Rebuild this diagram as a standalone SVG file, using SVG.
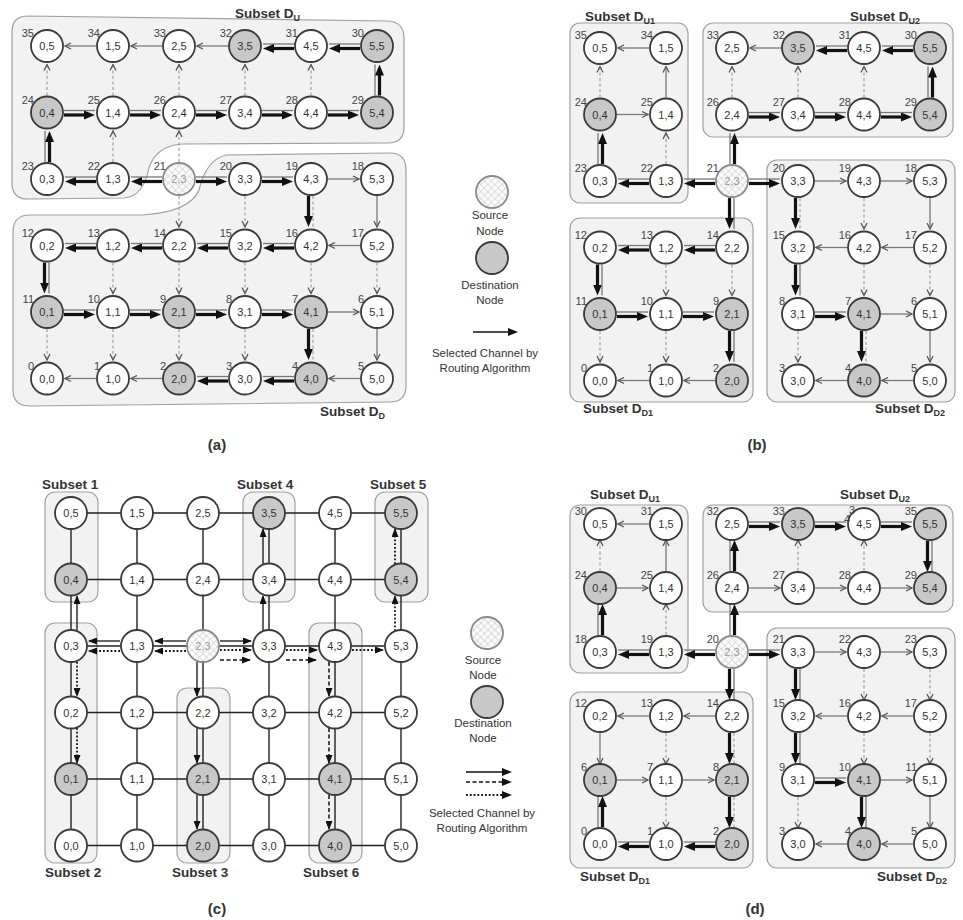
<svg xmlns="http://www.w3.org/2000/svg" xmlns:xlink="http://www.w3.org/1999/xlink" width="963" height="920" viewBox="0 0 963 920">
<style>
.n{fill:#fff;stroke:#3a3a3a;stroke-width:1.8}
.g{fill:#c8c8c8}
.s{fill:url(#hatch);stroke:#8a8a8a}
.t{font-family:"Liberation Sans",Arial,sans-serif;font-size:11px;fill:#333;text-anchor:middle}
.ts{fill:#999}
.k{font-family:"Liberation Sans",Arial,sans-serif;font-size:11px;fill:#444;text-anchor:end}
.c{stroke:#777;stroke-width:1.3;fill:none}
.cd{stroke:#9a9a9a;stroke-width:1.1;stroke-dasharray:3 2.5;fill:none}
.tk{stroke:#111;stroke-width:3.2;fill:none}
.box{fill:#f2f2f2;stroke:#a0a0a0;stroke-width:1.2}
.lab{font-family:"Liberation Sans",Arial,sans-serif;font-size:13.5px;font-weight:bold;fill:#333}
.sub{font-size:9px}
.leg{font-family:"Liberation Sans",Arial,sans-serif;font-size:11.5px;fill:#333;text-anchor:middle}
.cap{font-family:"Liberation Sans",Arial,sans-serif;font-size:15px;font-weight:bold;fill:#333;text-anchor:middle}
.m{stroke:#222;stroke-width:1.4;fill:none}
.p1{stroke:#111;stroke-width:1.3;fill:none}
.p2{stroke:#111;stroke-width:1.5;stroke-dasharray:4 2.5;fill:none}
.p3{stroke:#111;stroke-width:1.8;stroke-dasharray:1.8 2;fill:none}
</style>
<defs>
<pattern id="hatch" patternUnits="userSpaceOnUse" width="5" height="5" patternTransform="rotate(45)"><rect width="5" height="5" fill="#fbfbfb"/><path d="M0,0H5M0,0V5" stroke="#c4c4c4" stroke-width="1"/></pattern>
<marker id="ah" viewBox="0 0 8 8" refX="7" refY="4" markerWidth="8" markerHeight="8" orient="auto" markerUnits="userSpaceOnUse"><path d="M1,1 L7,4 L1,7" fill="none" stroke="#555" stroke-width="1.3"/></marker>
<marker id="th" viewBox="0 0 11 9" refX="2" refY="4.5" markerWidth="11" markerHeight="9" orient="auto" markerUnits="userSpaceOnUse"><path d="M0,0 L11,4.5 L0,9 z" fill="#111"/></marker>
<marker id="sa" viewBox="0 0 9 7" refX="8" refY="3.5" markerWidth="9" markerHeight="7" orient="auto" markerUnits="userSpaceOnUse"><path d="M0,0 L9,3.5 L0,7 z" fill="#111"/></marker>
<marker id="la" viewBox="0 0 10 8" refX="1" refY="4" markerWidth="10" markerHeight="8" orient="auto" markerUnits="userSpaceOnUse"><path d="M0,0 L10,4 L0,8 z" fill="#111"/></marker>
<g id="s"><line x1="17" y1="0" x2="48" y2="0" class="c" marker-end="url(#ah)"/></g>
<g id="d"><line x1="17" y1="0" x2="48" y2="0" class="cd" marker-end="url(#ah)"/></g>
<g id="S"><line x1="17" y1="-2" x2="48" y2="-2" class="c"/><line x1="17" y1="2.5" x2="39" y2="2.5" class="tk" marker-end="url(#th)"/></g>
<g id="D"><line x1="17" y1="-2" x2="48" y2="-2" class="cd"/><line x1="17" y1="2.5" x2="39" y2="2.5" class="tk" marker-end="url(#th)"/></g>
</defs>
<rect width="963" height="920" fill="#fff"/>

<g id="subsets">
<path id="a-DU" class="box" d="M28,16 L386,21 Q404,21 404,38 V127 Q404,143 388,143 L182,144 Q156,146 149,168 Q143,197 124,198 L28,199 Q12,199 12,183 V32 Q12,16 28,16 Z"/>
<path id="a-DD" class="box" d="M30,215 L142,215 Q190,212 199,190 Q206,160 226,155 L390,153 Q406,153 406,170 V386 Q406,402 390,402 L30,406 Q13,406 13,390 V232 Q13,215 30,215 Z"/>
<text class="lab" x="235" y="18">Subset D<tspan class="sub" dy="3">U</tspan></text>
<text class="lab" x="320" y="416">Subset D<tspan class="sub" dy="3">D</tspan></text>

<rect class="box" x="570" y="23" width="118" height="180" rx="10"/>
<rect class="box" x="703" y="23" width="250" height="114" rx="10"/>
<rect class="box" x="570" y="218" width="183" height="184" rx="10"/>
<rect class="box" x="767" y="160" width="188" height="242" rx="10"/>
<text class="lab" x="585" y="21">Subset D<tspan class="sub" dy="3">U1</tspan></text>
<text class="lab" x="850" y="21">Subset D<tspan class="sub" dy="3">U2</tspan></text>
<text class="lab" x="583" y="413">Subset D<tspan class="sub" dy="3">D1</tspan></text>
<text class="lab" x="875" y="413">Subset D<tspan class="sub" dy="3">D2</tspan></text>

<rect class="box" x="45" y="492" width="53" height="110" rx="10"/>
<rect class="box" x="243" y="492" width="52" height="110" rx="10"/>
<rect class="box" x="375" y="492" width="53" height="110" rx="10"/>
<rect class="box" x="45" y="623" width="52" height="240" rx="10"/>
<rect class="box" x="177" y="688" width="53" height="175" rx="10"/>
<rect class="box" x="309" y="623" width="53" height="240" rx="10"/>
<text class="lab" x="42" y="489">Subset 1</text>
<text class="lab" x="237" y="489">Subset 4</text>
<text class="lab" x="370" y="489">Subset 5</text>
<text class="lab" x="45" y="877">Subset 2</text>
<text class="lab" x="172" y="877">Subset 3</text>
<text class="lab" x="303" y="877">Subset 6</text>

<rect class="box" x="570" y="505" width="118" height="168" rx="10"/>
<rect class="box" x="703" y="505" width="250" height="107" rx="10"/>
<rect class="box" x="570" y="692" width="183" height="176" rx="10"/>
<rect class="box" x="767" y="628" width="188" height="240" rx="10"/>
<text class="lab" x="590" y="499">Subset D<tspan class="sub" dy="3">U1</tspan></text>
<text class="lab" x="840" y="499">Subset D<tspan class="sub" dy="3">U2</tspan></text>
<text class="lab" x="580" y="881">Subset D<tspan class="sub" dy="3">D1</tspan></text>
<text class="lab" x="877" y="881">Subset D<tspan class="sub" dy="3">D2</tspan></text>
</g>

<g id="connectors">
<g id="conn-a" transform="translate(47,46)">
<use href="#S" transform="translate(330,0) scale(-1,1)"/>
<use href="#S" transform="translate(264,0) scale(-1,1)"/>
<use href="#s" transform="translate(198,0) scale(-1,1)"/>
<use href="#s" transform="translate(132,0) scale(-1,1)"/>
<use href="#s" transform="translate(66,0) scale(-1,1)"/>
<use href="#d" transform="translate(0,66.5) rotate(-90)"/>
<use href="#d" transform="translate(66,66.5) rotate(-90)"/>
<use href="#d" transform="translate(132,66.5) rotate(-90)"/>
<use href="#d" transform="translate(198,66.5) rotate(-90)"/>
<use href="#d" transform="translate(264,66.5) rotate(-90)"/>
<use href="#S" transform="translate(330,66.5) rotate(-90)"/>
<use href="#S" transform="translate(0,66.5)"/>
<use href="#S" transform="translate(66,66.5)"/>
<use href="#S" transform="translate(132,66.5)"/>
<use href="#S" transform="translate(198,66.5)"/>
<use href="#S" transform="translate(264,66.5)"/>
<use href="#S" transform="translate(0,133) rotate(-90)"/>
<use href="#d" transform="translate(66,133) rotate(-90)"/>
<use href="#d" transform="translate(132,133) rotate(-90)"/>
<use href="#S" transform="translate(132,133) scale(-1,1)"/>
<use href="#S" transform="translate(66,133) scale(-1,1)"/>
<use href="#S" transform="translate(132,133)"/>
<use href="#S" transform="translate(198,133)"/>
<use href="#s" transform="translate(264,133)"/>
<use href="#d" transform="translate(132,133) rotate(90)"/>
<use href="#d" transform="translate(198,133) rotate(90)"/>
<use href="#D" transform="translate(264,133) rotate(90)"/>
<use href="#s" transform="translate(330,133) rotate(90)"/>
<use href="#s" transform="translate(330,199.5) scale(-1,1)"/>
<use href="#S" transform="translate(264,199.5) scale(-1,1)"/>
<use href="#S" transform="translate(198,199.5) scale(-1,1)"/>
<use href="#S" transform="translate(132,199.5) scale(-1,1)"/>
<use href="#S" transform="translate(66,199.5) scale(-1,1)"/>
<use href="#S" transform="translate(0,199.5) rotate(90)"/>
<use href="#d" transform="translate(66,199.5) rotate(90)"/>
<use href="#d" transform="translate(132,199.5) rotate(90)"/>
<use href="#d" transform="translate(198,199.5) rotate(90)"/>
<use href="#d" transform="translate(264,199.5) rotate(90)"/>
<use href="#d" transform="translate(330,199.5) rotate(90)"/>
<use href="#S" transform="translate(0,266)"/>
<use href="#S" transform="translate(66,266)"/>
<use href="#S" transform="translate(132,266)"/>
<use href="#S" transform="translate(198,266)"/>
<use href="#s" transform="translate(264,266)"/>
<use href="#d" transform="translate(0,266) rotate(90)"/>
<use href="#d" transform="translate(66,266) rotate(90)"/>
<use href="#d" transform="translate(132,266) rotate(90)"/>
<use href="#d" transform="translate(198,266) rotate(90)"/>
<use href="#D" transform="translate(264,266) rotate(90)"/>
<use href="#s" transform="translate(330,266) rotate(90)"/>
<use href="#s" transform="translate(330,332.5) scale(-1,1)"/>
<use href="#S" transform="translate(264,332.5) scale(-1,1)"/>
<use href="#S" transform="translate(198,332.5) scale(-1,1)"/>
<use href="#s" transform="translate(132,332.5) scale(-1,1)"/>
<use href="#s" transform="translate(66,332.5) scale(-1,1)"/>
</g>
<g id="conn-b" transform="translate(600,48)">
<use href="#S" transform="translate(132,133) scale(-1,1)"/>
<use href="#S" transform="translate(66,133) scale(-1,1)"/>
<use href="#S" transform="translate(0,133) rotate(-90)"/>
<use href="#s" transform="translate(0,66.5)"/>
<use href="#d" transform="translate(66,133) rotate(-90)"/>
<use href="#d" transform="translate(0,66.5) rotate(-90)"/>
<use href="#s" transform="translate(66,66.5) rotate(-90)"/>
<use href="#s" transform="translate(66,0) scale(-1,1)"/>
<use href="#S" transform="translate(132,133) rotate(-90)"/>
<use href="#S" transform="translate(132,66.5)"/>
<use href="#S" transform="translate(198,66.5)"/>
<use href="#S" transform="translate(264,66.5)"/>
<use href="#S" transform="translate(330,66.5) rotate(-90)"/>
<use href="#S" transform="translate(330,0) scale(-1,1)"/>
<use href="#S" transform="translate(264,0) scale(-1,1)"/>
<use href="#s" transform="translate(198,0) scale(-1,1)"/>
<use href="#d" transform="translate(132,66.5) rotate(-90)"/>
<use href="#d" transform="translate(198,66.5) rotate(-90)"/>
<use href="#d" transform="translate(264,66.5) rotate(-90)"/>
<use href="#S" transform="translate(132,133) rotate(90)"/>
<use href="#S" transform="translate(132,199.5) scale(-1,1)"/>
<use href="#S" transform="translate(66,199.5) scale(-1,1)"/>
<use href="#S" transform="translate(0,199.5) rotate(90)"/>
<use href="#S" transform="translate(0,266)"/>
<use href="#S" transform="translate(66,266)"/>
<use href="#S" transform="translate(132,266) rotate(90)"/>
<use href="#s" transform="translate(132,332.5) scale(-1,1)"/>
<use href="#s" transform="translate(66,332.5) scale(-1,1)"/>
<use href="#d" transform="translate(66,199.5) rotate(90)"/>
<use href="#d" transform="translate(132,199.5) rotate(90)"/>
<use href="#d" transform="translate(0,266) rotate(90)"/>
<use href="#d" transform="translate(66,266) rotate(90)"/>
<use href="#S" transform="translate(132,133)"/>
<use href="#s" transform="translate(198,133)"/>
<use href="#s" transform="translate(264,133)"/>
<use href="#D" transform="translate(198,133) rotate(90)"/>
<use href="#d" transform="translate(264,133) rotate(90)"/>
<use href="#s" transform="translate(330,133) rotate(90)"/>
<use href="#s" transform="translate(330,199.5) scale(-1,1)"/>
<use href="#s" transform="translate(264,199.5) scale(-1,1)"/>
<use href="#S" transform="translate(198,199.5) rotate(90)"/>
<use href="#d" transform="translate(264,199.5) rotate(90)"/>
<use href="#d" transform="translate(330,199.5) rotate(90)"/>
<use href="#S" transform="translate(198,266)"/>
<use href="#s" transform="translate(264,266)"/>
<use href="#d" transform="translate(198,266) rotate(90)"/>
<use href="#D" transform="translate(264,266) rotate(90)"/>
<use href="#s" transform="translate(330,266) rotate(90)"/>
<use href="#s" transform="translate(330,332.5) scale(-1,1)"/>
<use href="#s" transform="translate(264,332.5) scale(-1,1)"/>
</g>
<g id="conn-c" transform="translate(71,513)">
<path class="m" d="M0,0H330M0,66.5H330M0,133H330M0,199.5H330M0,266H330M0,332.5H330M0,0V332.5M66,0V332.5M132,0V332.5M198,0V332.5M264,0V332.5M330,0V332.5"/>
<g marker-end="url(#sa)">
<line class="p1" x1="115" y1="128" x2="84" y2="128"/>
<line class="p1" x1="49" y1="128" x2="18" y2="128"/>
<line class="p1" x1="6" y1="118" x2="6" y2="83"/>
<line class="p1" x1="149" y1="128" x2="180" y2="128"/>
<line class="p1" x1="192" y1="118" x2="192" y2="83"/>
<line class="p1" x1="192" y1="51" x2="192" y2="16"/>
<line class="p1" x1="126" y1="149" x2="126" y2="183"/>
<line class="p1" x1="126" y1="215" x2="126" y2="250"/>
<line class="p1" x1="126" y1="282" x2="126" y2="316"/>
<line class="p3" x1="115" y1="138" x2="84" y2="138"/>
<line class="p3" x1="49" y1="138" x2="18" y2="138"/>
<line class="p3" x1="6" y1="149" x2="6" y2="183"/>
<line class="p3" x1="6" y1="215" x2="6" y2="250"/>
<line class="p3" x1="149" y1="137" x2="180" y2="137"/>
<line class="p3" x1="215" y1="137" x2="246" y2="137"/>
<line class="p3" x1="281" y1="137" x2="312" y2="137"/>
<line class="p3" x1="324" y1="118" x2="324" y2="83"/>
<line class="p3" x1="324" y1="51" x2="324" y2="16"/>
<line class="p2" x1="149" y1="147" x2="179" y2="147"/>
<line class="p2" x1="215" y1="147" x2="245" y2="147"/>
<line class="p2" x1="258" y1="149" x2="258" y2="183"/>
<line class="p2" x1="258" y1="215" x2="258" y2="250"/>
<line class="p2" x1="258" y1="282" x2="258" y2="316"/>
</g>
</g>
<g id="conn-d" transform="translate(600,524)">
<use href="#S" transform="translate(132,128) scale(-1,1)"/>
<use href="#S" transform="translate(66,128) scale(-1,1)"/>
<use href="#S" transform="translate(0,128) rotate(-90)"/>
<use href="#s" transform="translate(0,64)"/>
<use href="#d" transform="translate(66,128) rotate(-90)"/>
<use href="#d" transform="translate(0,64) rotate(-90)"/>
<use href="#s" transform="translate(66,64) rotate(-90)"/>
<use href="#s" transform="translate(66,0) scale(-1,1)"/>
<use href="#S" transform="translate(132,128) rotate(-90)"/>
<use href="#S" transform="translate(132,64) rotate(-90)"/>
<use href="#S" transform="translate(132,0)"/>
<use href="#S" transform="translate(198,0)"/>
<use href="#S" transform="translate(264,0)"/>
<use href="#S" transform="translate(330,0) rotate(90)"/>
<use href="#s" transform="translate(132,64)"/>
<use href="#s" transform="translate(198,64)"/>
<use href="#s" transform="translate(264,64)"/>
<use href="#d" transform="translate(198,64) rotate(-90)"/>
<use href="#d" transform="translate(264,64) rotate(-90)"/>
<use href="#S" transform="translate(132,128) rotate(90)"/>
<use href="#D" transform="translate(132,192) rotate(90)"/>
<use href="#D" transform="translate(132,256) rotate(90)"/>
<use href="#S" transform="translate(132,320) scale(-1,1)"/>
<use href="#S" transform="translate(66,320) scale(-1,1)"/>
<use href="#S" transform="translate(0,320) rotate(-90)"/>
<use href="#s" transform="translate(132,192) scale(-1,1)"/>
<use href="#s" transform="translate(66,192) scale(-1,1)"/>
<use href="#s" transform="translate(0,192) rotate(90)"/>
<use href="#s" transform="translate(0,256)"/>
<use href="#s" transform="translate(66,256)"/>
<use href="#d" transform="translate(66,192) rotate(90)"/>
<use href="#d" transform="translate(66,256) rotate(90)"/>
<use href="#S" transform="translate(132,128)"/>
<use href="#s" transform="translate(198,128)"/>
<use href="#s" transform="translate(264,128)"/>
<use href="#S" transform="translate(198,128) rotate(90)"/>
<use href="#d" transform="translate(264,128) rotate(90)"/>
<use href="#d" transform="translate(330,128) rotate(90)"/>
<use href="#s" transform="translate(330,192) scale(-1,1)"/>
<use href="#s" transform="translate(264,192) scale(-1,1)"/>
<use href="#S" transform="translate(198,192) rotate(90)"/>
<use href="#d" transform="translate(264,192) rotate(90)"/>
<use href="#d" transform="translate(330,192) rotate(90)"/>
<use href="#S" transform="translate(198,256)"/>
<use href="#s" transform="translate(264,256)"/>
<use href="#d" transform="translate(198,256) rotate(90)"/>
<use href="#S" transform="translate(264,256) rotate(90)"/>
<use href="#s" transform="translate(330,256) rotate(90)"/>
<use href="#s" transform="translate(330,320) scale(-1,1)"/>
<use href="#s" transform="translate(264,320) scale(-1,1)"/>
</g>
</g>

<g id="nodes-a" transform="translate(47,46)">
<g id="a-0-5" transform="translate(0,0)"><circle class="n" r="16"/><text class="t" y="4">0,5</text><text class="k" x="-13" y="-9">35</text></g>
<g id="a-1-5" transform="translate(66,0)"><circle class="n" r="16"/><text class="t" y="4">1,5</text><text class="k" x="-13" y="-9">34</text></g>
<g id="a-2-5" transform="translate(132,0)"><circle class="n" r="16"/><text class="t" y="4">2,5</text><text class="k" x="-13" y="-9">33</text></g>
<g id="a-3-5" transform="translate(198,0)"><circle class="n g" r="16"/><text class="t" y="4">3,5</text><text class="k" x="-13" y="-9">32</text></g>
<g id="a-4-5" transform="translate(264,0)"><circle class="n" r="16"/><text class="t" y="4">4,5</text><text class="k" x="-13" y="-9">31</text></g>
<g id="a-5-5" transform="translate(330,0)"><circle class="n g" r="16"/><text class="t" y="4">5,5</text><text class="k" x="-13" y="-9">30</text></g>
<g id="a-0-4" transform="translate(0,66.5)"><circle class="n g" r="16"/><text class="t" y="4">0,4</text><text class="k" x="-13" y="-9">24</text></g>
<g id="a-1-4" transform="translate(66,66.5)"><circle class="n" r="16"/><text class="t" y="4">1,4</text><text class="k" x="-13" y="-9">25</text></g>
<g id="a-2-4" transform="translate(132,66.5)"><circle class="n" r="16"/><text class="t" y="4">2,4</text><text class="k" x="-13" y="-9">26</text></g>
<g id="a-3-4" transform="translate(198,66.5)"><circle class="n" r="16"/><text class="t" y="4">3,4</text><text class="k" x="-13" y="-9">27</text></g>
<g id="a-4-4" transform="translate(264,66.5)"><circle class="n" r="16"/><text class="t" y="4">4,4</text><text class="k" x="-13" y="-9">28</text></g>
<g id="a-5-4" transform="translate(330,66.5)"><circle class="n g" r="16"/><text class="t" y="4">5,4</text><text class="k" x="-13" y="-9">29</text></g>
<g id="a-0-3" transform="translate(0,133)"><circle class="n" r="16"/><text class="t" y="4">0,3</text><text class="k" x="-13" y="-9">23</text></g>
<g id="a-1-3" transform="translate(66,133)"><circle class="n" r="16"/><text class="t" y="4">1,3</text><text class="k" x="-13" y="-9">22</text></g>
<g id="a-2-3" transform="translate(132,133)"><circle class="n s" r="16"/><text class="t ts" y="4">2,3</text><text class="k" x="-13" y="-9">21</text></g>
<g id="a-3-3" transform="translate(198,133)"><circle class="n" r="16"/><text class="t" y="4">3,3</text><text class="k" x="-13" y="-9">20</text></g>
<g id="a-4-3" transform="translate(264,133)"><circle class="n" r="16"/><text class="t" y="4">4,3</text><text class="k" x="-13" y="-9">19</text></g>
<g id="a-5-3" transform="translate(330,133)"><circle class="n" r="16"/><text class="t" y="4">5,3</text><text class="k" x="-13" y="-9">18</text></g>
<g id="a-0-2" transform="translate(0,199.5)"><circle class="n" r="16"/><text class="t" y="4">0,2</text><text class="k" x="-13" y="-9">12</text></g>
<g id="a-1-2" transform="translate(66,199.5)"><circle class="n" r="16"/><text class="t" y="4">1,2</text><text class="k" x="-13" y="-9">13</text></g>
<g id="a-2-2" transform="translate(132,199.5)"><circle class="n" r="16"/><text class="t" y="4">2,2</text><text class="k" x="-13" y="-9">14</text></g>
<g id="a-3-2" transform="translate(198,199.5)"><circle class="n" r="16"/><text class="t" y="4">3,2</text><text class="k" x="-13" y="-9">15</text></g>
<g id="a-4-2" transform="translate(264,199.5)"><circle class="n" r="16"/><text class="t" y="4">4,2</text><text class="k" x="-13" y="-9">16</text></g>
<g id="a-5-2" transform="translate(330,199.5)"><circle class="n" r="16"/><text class="t" y="4">5,2</text><text class="k" x="-13" y="-9">17</text></g>
<g id="a-0-1" transform="translate(0,266)"><circle class="n g" r="16"/><text class="t" y="4">0,1</text><text class="k" x="-13" y="-9">11</text></g>
<g id="a-1-1" transform="translate(66,266)"><circle class="n" r="16"/><text class="t" y="4">1,1</text><text class="k" x="-13" y="-9">10</text></g>
<g id="a-2-1" transform="translate(132,266)"><circle class="n g" r="16"/><text class="t" y="4">2,1</text><text class="k" x="-13" y="-9">9</text></g>
<g id="a-3-1" transform="translate(198,266)"><circle class="n" r="16"/><text class="t" y="4">3,1</text><text class="k" x="-13" y="-9">8</text></g>
<g id="a-4-1" transform="translate(264,266)"><circle class="n g" r="16"/><text class="t" y="4">4,1</text><text class="k" x="-13" y="-9">7</text></g>
<g id="a-5-1" transform="translate(330,266)"><circle class="n" r="16"/><text class="t" y="4">5,1</text><text class="k" x="-13" y="-9">6</text></g>
<g id="a-0-0" transform="translate(0,332.5)"><circle class="n" r="16"/><text class="t" y="4">0,0</text><text class="k" x="-13" y="-9">0</text></g>
<g id="a-1-0" transform="translate(66,332.5)"><circle class="n" r="16"/><text class="t" y="4">1,0</text><text class="k" x="-13" y="-9">1</text></g>
<g id="a-2-0" transform="translate(132,332.5)"><circle class="n g" r="16"/><text class="t" y="4">2,0</text><text class="k" x="-13" y="-9">2</text></g>
<g id="a-3-0" transform="translate(198,332.5)"><circle class="n" r="16"/><text class="t" y="4">3,0</text><text class="k" x="-13" y="-9">3</text></g>
<g id="a-4-0" transform="translate(264,332.5)"><circle class="n g" r="16"/><text class="t" y="4">4,0</text><text class="k" x="-13" y="-9">4</text></g>
<g id="a-5-0" transform="translate(330,332.5)"><circle class="n" r="16"/><text class="t" y="4">5,0</text><text class="k" x="-13" y="-9">5</text></g>
</g>

<g id="nodes-b" transform="translate(600,48)">
<g id="b-0-5" transform="translate(0,0)"><circle class="n" r="16"/><text class="t" y="4">0,5</text><text class="k" x="-13" y="-9">35</text></g>
<g id="b-1-5" transform="translate(66,0)"><circle class="n" r="16"/><text class="t" y="4">1,5</text><text class="k" x="-13" y="-9">34</text></g>
<g id="b-2-5" transform="translate(132,0)"><circle class="n" r="16"/><text class="t" y="4">2,5</text><text class="k" x="-13" y="-9">33</text></g>
<g id="b-3-5" transform="translate(198,0)"><circle class="n g" r="16"/><text class="t" y="4">3,5</text><text class="k" x="-13" y="-9">32</text></g>
<g id="b-4-5" transform="translate(264,0)"><circle class="n" r="16"/><text class="t" y="4">4,5</text><text class="k" x="-13" y="-9">31</text></g>
<g id="b-5-5" transform="translate(330,0)"><circle class="n g" r="16"/><text class="t" y="4">5,5</text><text class="k" x="-13" y="-9">30</text></g>
<g id="b-0-4" transform="translate(0,66.5)"><circle class="n g" r="16"/><text class="t" y="4">0,4</text><text class="k" x="-13" y="-9">24</text></g>
<g id="b-1-4" transform="translate(66,66.5)"><circle class="n" r="16"/><text class="t" y="4">1,4</text><text class="k" x="-13" y="-9">25</text></g>
<g id="b-2-4" transform="translate(132,66.5)"><circle class="n" r="16"/><text class="t" y="4">2,4</text><text class="k" x="-13" y="-9">26</text></g>
<g id="b-3-4" transform="translate(198,66.5)"><circle class="n" r="16"/><text class="t" y="4">3,4</text><text class="k" x="-13" y="-9">27</text></g>
<g id="b-4-4" transform="translate(264,66.5)"><circle class="n" r="16"/><text class="t" y="4">4,4</text><text class="k" x="-13" y="-9">28</text></g>
<g id="b-5-4" transform="translate(330,66.5)"><circle class="n g" r="16"/><text class="t" y="4">5,4</text><text class="k" x="-13" y="-9">29</text></g>
<g id="b-0-3" transform="translate(0,133)"><circle class="n" r="16"/><text class="t" y="4">0,3</text><text class="k" x="-13" y="-9">23</text></g>
<g id="b-1-3" transform="translate(66,133)"><circle class="n" r="16"/><text class="t" y="4">1,3</text><text class="k" x="-13" y="-9">22</text></g>
<g id="b-2-3" transform="translate(132,133)"><circle class="n s" r="16"/><text class="t ts" y="4">2,3</text><text class="k" x="-13" y="-9">21</text></g>
<g id="b-3-3" transform="translate(198,133)"><circle class="n" r="16"/><text class="t" y="4">3,3</text><text class="k" x="-13" y="-9">20</text></g>
<g id="b-4-3" transform="translate(264,133)"><circle class="n" r="16"/><text class="t" y="4">4,3</text><text class="k" x="-13" y="-9">19</text></g>
<g id="b-5-3" transform="translate(330,133)"><circle class="n" r="16"/><text class="t" y="4">5,3</text><text class="k" x="-13" y="-9">18</text></g>
<g id="b-0-2" transform="translate(0,199.5)"><circle class="n" r="16"/><text class="t" y="4">0,2</text><text class="k" x="-13" y="-9">12</text></g>
<g id="b-1-2" transform="translate(66,199.5)"><circle class="n" r="16"/><text class="t" y="4">1,2</text><text class="k" x="-13" y="-9">13</text></g>
<g id="b-2-2" transform="translate(132,199.5)"><circle class="n" r="16"/><text class="t" y="4">2,2</text><text class="k" x="-13" y="-9">14</text></g>
<g id="b-3-2" transform="translate(198,199.5)"><circle class="n" r="16"/><text class="t" y="4">3,2</text><text class="k" x="-13" y="-9">15</text></g>
<g id="b-4-2" transform="translate(264,199.5)"><circle class="n" r="16"/><text class="t" y="4">4,2</text><text class="k" x="-13" y="-9">16</text></g>
<g id="b-5-2" transform="translate(330,199.5)"><circle class="n" r="16"/><text class="t" y="4">5,2</text><text class="k" x="-13" y="-9">17</text></g>
<g id="b-0-1" transform="translate(0,266)"><circle class="n g" r="16"/><text class="t" y="4">0,1</text><text class="k" x="-13" y="-9">11</text></g>
<g id="b-1-1" transform="translate(66,266)"><circle class="n" r="16"/><text class="t" y="4">1,1</text><text class="k" x="-13" y="-9">10</text></g>
<g id="b-2-1" transform="translate(132,266)"><circle class="n g" r="16"/><text class="t" y="4">2,1</text><text class="k" x="-13" y="-9">9</text></g>
<g id="b-3-1" transform="translate(198,266)"><circle class="n" r="16"/><text class="t" y="4">3,1</text><text class="k" x="-13" y="-9">8</text></g>
<g id="b-4-1" transform="translate(264,266)"><circle class="n g" r="16"/><text class="t" y="4">4,1</text><text class="k" x="-13" y="-9">7</text></g>
<g id="b-5-1" transform="translate(330,266)"><circle class="n" r="16"/><text class="t" y="4">5,1</text><text class="k" x="-13" y="-9">6</text></g>
<g id="b-0-0" transform="translate(0,332.5)"><circle class="n" r="16"/><text class="t" y="4">0,0</text><text class="k" x="-13" y="-9">0</text></g>
<g id="b-1-0" transform="translate(66,332.5)"><circle class="n" r="16"/><text class="t" y="4">1,0</text><text class="k" x="-13" y="-9">1</text></g>
<g id="b-2-0" transform="translate(132,332.5)"><circle class="n g" r="16"/><text class="t" y="4">2,0</text><text class="k" x="-13" y="-9">2</text></g>
<g id="b-3-0" transform="translate(198,332.5)"><circle class="n" r="16"/><text class="t" y="4">3,0</text><text class="k" x="-13" y="-9">3</text></g>
<g id="b-4-0" transform="translate(264,332.5)"><circle class="n g" r="16"/><text class="t" y="4">4,0</text><text class="k" x="-13" y="-9">4</text></g>
<g id="b-5-0" transform="translate(330,332.5)"><circle class="n" r="16"/><text class="t" y="4">5,0</text><text class="k" x="-13" y="-9">5</text></g>
</g>

<g id="nodes-c" transform="translate(71,513)">
<g id="c-0-5" transform="translate(0,0)"><circle class="n" r="16"/><text class="t" y="4">0,5</text></g>
<g id="c-1-5" transform="translate(66,0)"><circle class="n" r="16"/><text class="t" y="4">1,5</text></g>
<g id="c-2-5" transform="translate(132,0)"><circle class="n" r="16"/><text class="t" y="4">2,5</text></g>
<g id="c-3-5" transform="translate(198,0)"><circle class="n g" r="16"/><text class="t" y="4">3,5</text></g>
<g id="c-4-5" transform="translate(264,0)"><circle class="n" r="16"/><text class="t" y="4">4,5</text></g>
<g id="c-5-5" transform="translate(330,0)"><circle class="n g" r="16"/><text class="t" y="4">5,5</text></g>
<g id="c-0-4" transform="translate(0,66.5)"><circle class="n g" r="16"/><text class="t" y="4">0,4</text></g>
<g id="c-1-4" transform="translate(66,66.5)"><circle class="n" r="16"/><text class="t" y="4">1,4</text></g>
<g id="c-2-4" transform="translate(132,66.5)"><circle class="n" r="16"/><text class="t" y="4">2,4</text></g>
<g id="c-3-4" transform="translate(198,66.5)"><circle class="n" r="16"/><text class="t" y="4">3,4</text></g>
<g id="c-4-4" transform="translate(264,66.5)"><circle class="n" r="16"/><text class="t" y="4">4,4</text></g>
<g id="c-5-4" transform="translate(330,66.5)"><circle class="n g" r="16"/><text class="t" y="4">5,4</text></g>
<g id="c-0-3" transform="translate(0,133)"><circle class="n" r="16"/><text class="t" y="4">0,3</text></g>
<g id="c-1-3" transform="translate(66,133)"><circle class="n" r="16"/><text class="t" y="4">1,3</text></g>
<g id="c-2-3" transform="translate(132,133)"><circle class="n s" r="16"/><text class="t ts" y="4">2,3</text></g>
<g id="c-3-3" transform="translate(198,133)"><circle class="n" r="16"/><text class="t" y="4">3,3</text></g>
<g id="c-4-3" transform="translate(264,133)"><circle class="n" r="16"/><text class="t" y="4">4,3</text></g>
<g id="c-5-3" transform="translate(330,133)"><circle class="n" r="16"/><text class="t" y="4">5,3</text></g>
<g id="c-0-2" transform="translate(0,199.5)"><circle class="n" r="16"/><text class="t" y="4">0,2</text></g>
<g id="c-1-2" transform="translate(66,199.5)"><circle class="n" r="16"/><text class="t" y="4">1,2</text></g>
<g id="c-2-2" transform="translate(132,199.5)"><circle class="n" r="16"/><text class="t" y="4">2,2</text></g>
<g id="c-3-2" transform="translate(198,199.5)"><circle class="n" r="16"/><text class="t" y="4">3,2</text></g>
<g id="c-4-2" transform="translate(264,199.5)"><circle class="n" r="16"/><text class="t" y="4">4,2</text></g>
<g id="c-5-2" transform="translate(330,199.5)"><circle class="n" r="16"/><text class="t" y="4">5,2</text></g>
<g id="c-0-1" transform="translate(0,266)"><circle class="n g" r="16"/><text class="t" y="4">0,1</text></g>
<g id="c-1-1" transform="translate(66,266)"><circle class="n" r="16"/><text class="t" y="4">1,1</text></g>
<g id="c-2-1" transform="translate(132,266)"><circle class="n g" r="16"/><text class="t" y="4">2,1</text></g>
<g id="c-3-1" transform="translate(198,266)"><circle class="n" r="16"/><text class="t" y="4">3,1</text></g>
<g id="c-4-1" transform="translate(264,266)"><circle class="n g" r="16"/><text class="t" y="4">4,1</text></g>
<g id="c-5-1" transform="translate(330,266)"><circle class="n" r="16"/><text class="t" y="4">5,1</text></g>
<g id="c-0-0" transform="translate(0,332.5)"><circle class="n" r="16"/><text class="t" y="4">0,0</text></g>
<g id="c-1-0" transform="translate(66,332.5)"><circle class="n" r="16"/><text class="t" y="4">1,0</text></g>
<g id="c-2-0" transform="translate(132,332.5)"><circle class="n g" r="16"/><text class="t" y="4">2,0</text></g>
<g id="c-3-0" transform="translate(198,332.5)"><circle class="n" r="16"/><text class="t" y="4">3,0</text></g>
<g id="c-4-0" transform="translate(264,332.5)"><circle class="n g" r="16"/><text class="t" y="4">4,0</text></g>
<g id="c-5-0" transform="translate(330,332.5)"><circle class="n" r="16"/><text class="t" y="4">5,0</text></g>
</g>

<g id="nodes-d" transform="translate(600,524)">
<g id="d-0-5" transform="translate(0,0)"><circle class="n" r="16"/><text class="t" y="4">0,5</text><text class="k" x="-13" y="-9">30</text></g>
<g id="d-1-5" transform="translate(66,0)"><circle class="n" r="16"/><text class="t" y="4">1,5</text><text class="k" x="-13" y="-9">31</text></g>
<g id="d-2-5" transform="translate(132,0)"><circle class="n" r="16"/><text class="t" y="4">2,5</text><text class="k" x="-13" y="-9">32</text></g>
<g id="d-3-5" transform="translate(198,0)"><circle class="n g" r="16"/><text class="t" y="4">3,5</text><text class="k" x="-13" y="-9">33</text></g>
<g id="d-4-5" transform="translate(264,0)"><circle class="n" r="16"/><text class="t" y="4">4,5</text><text class="k" x="-9" y="-10">3</text><text class="k" x="-14" y="-1">4</text></g>
<g id="d-5-5" transform="translate(330,0)"><circle class="n g" r="16"/><text class="t" y="4">5,5</text><text class="k" x="-13" y="-9">35</text></g>
<g id="d-0-4" transform="translate(0,64)"><circle class="n g" r="16"/><text class="t" y="4">0,4</text><text class="k" x="-13" y="-9">24</text></g>
<g id="d-1-4" transform="translate(66,64)"><circle class="n" r="16"/><text class="t" y="4">1,4</text><text class="k" x="-13" y="-9">25</text></g>
<g id="d-2-4" transform="translate(132,64)"><circle class="n" r="16"/><text class="t" y="4">2,4</text><text class="k" x="-13" y="-9">26</text></g>
<g id="d-3-4" transform="translate(198,64)"><circle class="n" r="16"/><text class="t" y="4">3,4</text><text class="k" x="-13" y="-9">27</text></g>
<g id="d-4-4" transform="translate(264,64)"><circle class="n" r="16"/><text class="t" y="4">4,4</text><text class="k" x="-13" y="-9">28</text></g>
<g id="d-5-4" transform="translate(330,64)"><circle class="n g" r="16"/><text class="t" y="4">5,4</text><text class="k" x="-13" y="-9">29</text></g>
<g id="d-0-3" transform="translate(0,128)"><circle class="n" r="16"/><text class="t" y="4">0,3</text><text class="k" x="-13" y="-9">18</text></g>
<g id="d-1-3" transform="translate(66,128)"><circle class="n" r="16"/><text class="t" y="4">1,3</text><text class="k" x="-13" y="-9">19</text></g>
<g id="d-2-3" transform="translate(132,128)"><circle class="n s" r="16"/><text class="t ts" y="4">2,3</text><text class="k" x="-13" y="-9">20</text></g>
<g id="d-3-3" transform="translate(198,128)"><circle class="n" r="16"/><text class="t" y="4">3,3</text><text class="k" x="-13" y="-9">21</text></g>
<g id="d-4-3" transform="translate(264,128)"><circle class="n" r="16"/><text class="t" y="4">4,3</text><text class="k" x="-13" y="-9">22</text></g>
<g id="d-5-3" transform="translate(330,128)"><circle class="n" r="16"/><text class="t" y="4">5,3</text><text class="k" x="-13" y="-9">23</text></g>
<g id="d-0-2" transform="translate(0,192)"><circle class="n" r="16"/><text class="t" y="4">0,2</text><text class="k" x="-13" y="-9">12</text></g>
<g id="d-1-2" transform="translate(66,192)"><circle class="n" r="16"/><text class="t" y="4">1,2</text><text class="k" x="-13" y="-9">13</text></g>
<g id="d-2-2" transform="translate(132,192)"><circle class="n" r="16"/><text class="t" y="4">2,2</text><text class="k" x="-13" y="-9">14</text></g>
<g id="d-3-2" transform="translate(198,192)"><circle class="n" r="16"/><text class="t" y="4">3,2</text><text class="k" x="-13" y="-9">15</text></g>
<g id="d-4-2" transform="translate(264,192)"><circle class="n" r="16"/><text class="t" y="4">4,2</text><text class="k" x="-13" y="-9">16</text></g>
<g id="d-5-2" transform="translate(330,192)"><circle class="n" r="16"/><text class="t" y="4">5,2</text><text class="k" x="-13" y="-9">17</text></g>
<g id="d-0-1" transform="translate(0,256)"><circle class="n g" r="16"/><text class="t" y="4">0,1</text><text class="k" x="-13" y="-9">6</text></g>
<g id="d-1-1" transform="translate(66,256)"><circle class="n" r="16"/><text class="t" y="4">1,1</text><text class="k" x="-13" y="-9">7</text></g>
<g id="d-2-1" transform="translate(132,256)"><circle class="n g" r="16"/><text class="t" y="4">2,1</text><text class="k" x="-13" y="-9">8</text></g>
<g id="d-3-1" transform="translate(198,256)"><circle class="n" r="16"/><text class="t" y="4">3,1</text><text class="k" x="-13" y="-9">9</text></g>
<g id="d-4-1" transform="translate(264,256)"><circle class="n g" r="16"/><text class="t" y="4">4,1</text><text class="k" x="-13" y="-9">10</text></g>
<g id="d-5-1" transform="translate(330,256)"><circle class="n" r="16"/><text class="t" y="4">5,1</text><text class="k" x="-13" y="-9">11</text></g>
<g id="d-0-0" transform="translate(0,320)"><circle class="n" r="16"/><text class="t" y="4">0,0</text><text class="k" x="-13" y="-9">0</text></g>
<g id="d-1-0" transform="translate(66,320)"><circle class="n" r="16"/><text class="t" y="4">1,0</text><text class="k" x="-13" y="-9">1</text></g>
<g id="d-2-0" transform="translate(132,320)"><circle class="n g" r="16"/><text class="t" y="4">2,0</text><text class="k" x="-13" y="-9">2</text></g>
<g id="d-3-0" transform="translate(198,320)"><circle class="n" r="16"/><text class="t" y="4">3,0</text><text class="k" x="-13" y="-9">3</text></g>
<g id="d-4-0" transform="translate(264,320)"><circle class="n g" r="16"/><text class="t" y="4">4,0</text><text class="k" x="-13" y="-9">4</text></g>
<g id="d-5-0" transform="translate(330,320)"><circle class="n" r="16"/><text class="t" y="4">5,0</text><text class="k" x="-13" y="-9">5</text></g>
</g>

<g id="legend-1">
<g id="leg1-source"><circle class="n s" cx="492" cy="192" r="16"/></g>
<text class="leg" x="490" y="219">Source</text>
<text class="leg" x="490" y="235">Node</text>
<g id="leg1-dest"><circle class="n g" cx="492" cy="258" r="16"/></g>
<text class="leg" x="490" y="289">Destination</text>
<text class="leg" x="490" y="304">Node</text>
<line x1="473" y1="332" x2="509" y2="332" stroke="#111" stroke-width="1.4" marker-end="url(#la)"/>
<text class="leg" x="485" y="357">Selected Channel by</text>
<text class="leg" x="485" y="372">Routing Algorithm</text>
</g>

<g id="legend-2">
<g id="leg2-source"><circle class="n s" cx="487" cy="633" r="16"/></g>
<text class="leg" x="483" y="664">Source</text>
<text class="leg" x="483" y="679">Node</text>
<g id="leg2-dest"><circle class="n g" cx="487" cy="702" r="16"/></g>
<text class="leg" x="483" y="727">Destination</text>
<text class="leg" x="483" y="742">Node</text>
<line x1="466" y1="772" x2="503" y2="772" stroke="#111" stroke-width="1.4" marker-end="url(#la)"/>
<line x1="466" y1="782" x2="503" y2="782" stroke="#111" stroke-width="1.5" stroke-dasharray="4 2.5" marker-end="url(#la)"/>
<line x1="466" y1="795" x2="503" y2="795" stroke="#111" stroke-width="1.8" stroke-dasharray="1.8 2" marker-end="url(#la)"/>
<text class="leg" x="482" y="817">Selected Channel by</text>
<text class="leg" x="482" y="832">Routing Algorithm</text>
</g>

<g id="captions">
<text class="cap" x="217" y="450">(a)</text>
<text class="cap" x="757" y="450">(b)</text>
<text class="cap" x="217" y="914">(c)</text>
<text class="cap" x="755" y="914">(d)</text>
</g>
</svg>
